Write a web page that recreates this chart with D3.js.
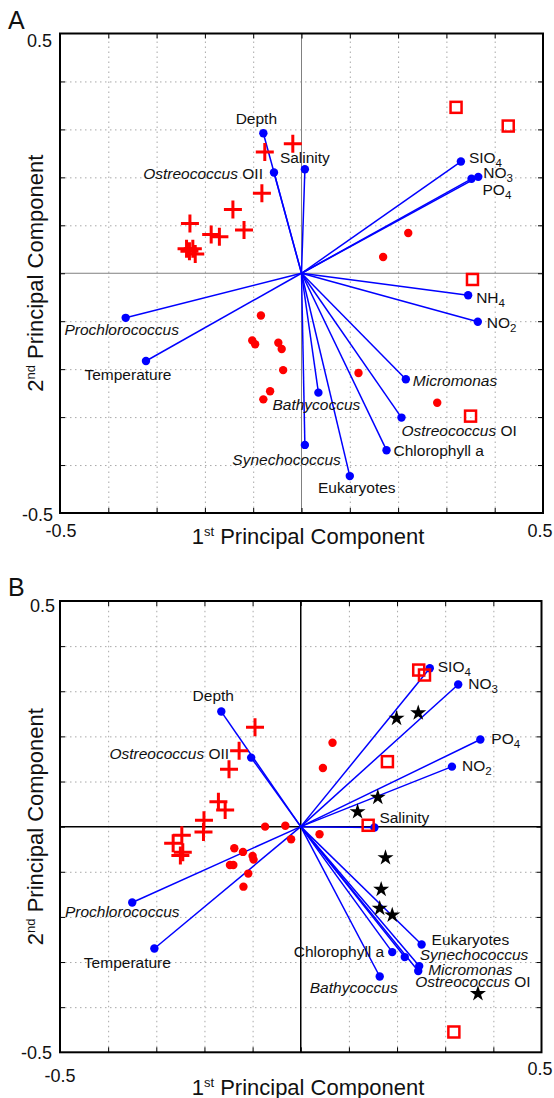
<!DOCTYPE html>
<html>
<head>
<meta charset="utf-8">
<script src="https://cdn.jsdelivr.net/npm/d3@7"></script>
<style>
body { margin: 0; background: #fff; }
svg text { font-family: "Liberation Sans", Arial, sans-serif; fill: #111; }
</style>
</head>
<body>
<div id="chart"></div>
<script>
"use strict"

/* Data: panel A, loadings [name, PC1, PC2] */
let loadingsA = [
    ["Depth", -0.079, 0.292],
    ["Ostreococcus OII", -0.057, 0.210],
    ["Salinity", 0.007, 0.217],
    ["SIO4", 0.330, 0.233],
    ["NO3", 0.366, 0.201],
    ["PO4", 0.352, 0.197],
    ["NH4", 0.345, -0.046],
    ["NO2", 0.365, -0.101],
    ["Micromonas", 0.216, -0.221],
    ["Ostreococcus OI", 0.207, -0.301],
    ["Chlorophyll a", 0.176, -0.369],
    ["Eukaryotes", 0.100, -0.423],
    ["Synechococcus", 0.007, -0.358],
    ["Bathycoccus", 0.035, -0.249],
    ["Prochlorococcus", -0.364, -0.093],
    ["Temperature", -0.322, -0.183]
];

/* Data: panel A, sample scores [PC1, PC2] */
let plusA = [
    [-0.018, 0.270], [-0.076, 0.253], [-0.082, 0.167], [-0.142, 0.133],
    [-0.231, 0.104], [-0.187, 0.081], [-0.170, 0.076], [-0.119, 0.090],
    [-0.238, 0.051], [-0.225, 0.051], [-0.220, 0.040], [-0.232, 0.046]
];
let dotsA = [
    [0.221, 0.084], [0.169, 0.034], [-0.084, -0.088], [-0.102, -0.140],
    [-0.096, -0.148], [-0.048, -0.145], [-0.041, -0.158], [-0.038, -0.202],
    [-0.065, -0.246], [-0.079, -0.263], [0.118, -0.208], [0.281, -0.270]
];
let squaresA = [
    [0.320, 0.346], [0.428, 0.307], [0.354, -0.013], [0.350, -0.298]
];

/* Data: panel B, loadings [name, PC1, PC2] */
let loadingsB = [
    ["Depth", -0.165, 0.255],
    ["Ostreococcus OII", -0.103, 0.153],
    ["SIO4", 0.268, 0.351],
    ["NO3", 0.327, 0.315],
    ["PO4", 0.373, 0.193],
    ["NO2", 0.314, 0.133],
    ["Salinity", 0.153, -0.002],
    ["Eukaryotes", 0.251, -0.261],
    ["Chlorophyll a", 0.190, -0.278],
    ["Synechococcus", 0.216, -0.289],
    ["Micromonas", 0.246, -0.309],
    ["Ostreococcus OI", 0.244, -0.320],
    ["Bathycoccus", 0.164, -0.332],
    ["Prochlorococcus", -0.350, -0.168],
    ["Temperature", -0.304, -0.270]
];

/* Data: panel B, sample scores [PC1, PC2] */
let plusB = [
    [-0.095, 0.220], [-0.128, 0.168], [-0.149, 0.127], [-0.171, 0.055],
    [-0.157, 0.037], [-0.201, 0.014], [-0.202, -0.012], [-0.247, -0.019],
    [-0.265, -0.037], [-0.245, -0.057], [-0.250, -0.064]
];
let dotsB = [
    [0.066, 0.186], [0.046, 0.130], [-0.074, 0.000], [-0.032, 0.002],
    [-0.020, -0.028], [-0.138, -0.048], [-0.120, -0.056], [-0.100, -0.065],
    [-0.098, -0.073], [-0.147, -0.085], [-0.140, -0.085], [-0.109, -0.104],
    [-0.119, -0.133], [0.039, -0.017]
];
let squaresB = [
    [0.245, 0.347], [0.257, 0.336], [0.180, 0.144], [0.140, 0.003], [0.318, -0.455]
];
let starsB = [
    [0.199, 0.240], [0.244, 0.252], [0.160, 0.065], [0.118, 0.033],
    [0.176, -0.069], [0.167, -0.139], [0.164, -0.181], [0.190, -0.196],
    [0.368, -0.370]
];

/* Axis ticks */
let gridTicks = [-0.4, -0.3, -0.2, -0.1, 0.1, 0.2, 0.3, 0.4];
let allTicks = [-0.4, -0.3, -0.2, -0.1, 0, 0.1, 0.2, 0.3, 0.4];
let endTicks = [-0.5, 0.5];
let endTickLabels = ["-0.5", "0.5"];

let italicNames = ["Micromonas", "Synechococcus", "Bathycoccus", "Prochlorococcus"];

/* Label placement: [dx, dy, anchor] from the loading point */
let labelPosA = {
    "Depth": [-7, -9, "middle"], "Ostreococcus OII": [-11, 6, "end"],
    "Salinity": [0, -6, "middle"], "SIO4": [8, 1, "start"],
    "NO3": [5, 1, "start"], "PO4": [11, 16, "start"],
    "NH4": [8, 8, "start"], "NO2": [9, 6, "start"],
    "Micromonas": [7, 7, "start"], "Ostreococcus OI": [0, 18, "start"],
    "Chlorophyll a": [7, 6, "start"], "Eukaryotes": [7, 17, "middle"],
    "Synechococcus": [36, 20, "end"], "Bathycoccus": [-2, 17, "middle"],
    "Prochlorococcus": [-4, 17, "middle"], "Temperature": [-18, 19, "middle"]
};
let labelPosB = {
    "Depth": [-8, -11, "middle"], "Ostreococcus OII": [-22, 1, "end"],
    "SIO4": [8, 4, "start"], "NO3": [10, 5, "start"],
    "PO4": [11, 4, "start"], "NO2": [10, 4, "start"],
    "Salinity": [5, -5, "start"], "Eukaryotes": [10, 1, "start"],
    "Chlorophyll a": [-8, 5, "end"], "Synechococcus": [15, 3, "start"],
    "Micromonas": [9, 9, "start"], "Ostreococcus OI": [-3, 16, "start"],
    "Bathycoccus": [-26, 17, "middle"], "Prochlorococcus": [-10, 15, "middle"],
    "Temperature": [-27, 19, "middle"]
};

let svgWidth = 554;
let svgHeight = 1098;

let svg = d3.select("#chart")
    .append("svg")
    .attr("width", svgWidth)
    .attr("height", svgHeight);

let panels = [
    {
        letter: "A", loadings: loadingsA, plus: plusA, dots: dotsA, squares: squaresA, stars: [],
        labels: labelPosA, left: 60, right: 543, top: 33.5, bottom: 513,
        zeroColor: "#808080", zeroWidth: 1,
        yLab: [[53, 8], [52, 13]], xLab: [[61, 24], [540, 24]], titleY: 31
    },
    {
        letter: "B", loadings: loadingsB, plus: plusB, dots: dotsB, squares: squaresB, stars: starsB,
        labels: labelPosB, left: 60, right: 541.5, top: 601, bottom: 1052.3,
        zeroColor: "#000", zeroWidth: 1.5,
        yLab: [[52, 7], [55, 11]], xLab: [[60, 29.5], [540, 23]], titleY: 43
    }
];

function writeLabel(g, name, x, y, anchor) {
    let t = g.append("text")
        .attr("x", x)
        .attr("y", y)
        .attr("text-anchor", anchor)
        .attr("font-size", 15.5);
    let sub = name.match(/^([A-Z]+)(\d)$/);
    if (sub) {
        t.append("tspan").text(sub[1]);
        t.append("tspan").attr("dy", 4).attr("font-size", 11.5).text(sub[2]);
    } else if (name.startsWith("Ostreococcus")) {
        t.append("tspan").attr("font-style", "italic").text("Ostreococcus");
        t.append("tspan").text(name.slice(12));
    } else if (italicNames.includes(name)) {
        t.attr("font-style", "italic").text(name);
    } else {
        t.text(name);
    }
}

function axisTitle(text, ord, sup) {
    text.append("tspan").text(ord);
    text.append("tspan").attr("dy", -8).attr("font-size", 13).text(sup);
    text.append("tspan").attr("dy", 8).text(" Principal Component");
}

panels.forEach(function (p) {
    let x = d3.scaleLinear().domain([-0.5, 0.5]).range([p.left, p.right]);
    let y = d3.scaleLinear().domain([-0.5, 0.5]).range([p.bottom, p.top]);
    let w = p.right - p.left;
    let h = p.bottom - p.top;
    let g = svg.append("g");

    /* dotted grid */
    g.append("g")
        .attr("transform", "translate(0," + p.bottom + ")")
        .call(d3.axisBottom(x).tickValues(gridTicks).tickSize(-h).tickFormat(""))
        .call(a => a.select(".domain").remove())
        .selectAll("line")
        .attr("stroke", "#a8a8a8")
        .attr("stroke-dasharray", "1.5,3.5");
    g.append("g")
        .attr("transform", "translate(" + p.left + ",0)")
        .call(d3.axisLeft(y).tickValues(gridTicks).tickSize(-w).tickFormat(""))
        .call(a => a.select(".domain").remove())
        .selectAll("line")
        .attr("stroke", "#a8a8a8")
        .attr("stroke-dasharray", "1.5,3.5");

    /* zero lines */
    g.append("line")
        .attr("x1", x(0)).attr("x2", x(0))
        .attr("y1", p.top).attr("y2", p.bottom)
        .attr("stroke", p.zeroColor).attr("stroke-width", p.zeroWidth);
    g.append("line")
        .attr("x1", p.left).attr("x2", p.right)
        .attr("y1", y(0)).attr("y2", y(0))
        .attr("stroke", p.zeroColor).attr("stroke-width", p.zeroWidth);

    /* inner tick marks on all four sides */
    let tickAxes = [
        [d3.axisBottom(x), "translate(0," + p.bottom + ")"],
        [d3.axisTop(x), "translate(0," + p.top + ")"],
        [d3.axisLeft(y), "translate(" + p.left + ",0)"],
        [d3.axisRight(y), "translate(" + p.right + ",0)"]
    ];
    tickAxes.forEach(function (ta) {
        g.append("g")
            .attr("transform", ta[1])
            .call(ta[0].tickValues(allTicks).tickSize(-5).tickFormat(""))
            .call(a => a.select(".domain").remove())
            .selectAll("line")
            .attr("stroke", "#000");
    });

    /* loading vectors */
    g.selectAll(".vec")
        .data(p.loadings)
        .join("line")
        .attr("x1", x(0)).attr("y1", y(0))
        .attr("x2", d => x(d[1]))
        .attr("y2", d => y(d[2]))
        .attr("stroke", "#0000ff")
        .attr("stroke-width", 1.5);
    g.selectAll(".vdot")
        .data(p.loadings)
        .join("circle")
        .attr("cx", d => x(d[1]))
        .attr("cy", d => y(d[2]))
        .attr("r", 4.2)
        .attr("fill", "#0000ff");

    /* samples */
    g.selectAll(".rdot")
        .data(p.dots)
        .join("circle")
        .attr("cx", d => x(d[0]))
        .attr("cy", d => y(d[1]))
        .attr("r", 4.2)
        .attr("fill", "#ff0000");
    g.selectAll(".plus")
        .data(p.plus)
        .join("path")
        .attr("d", "M-9,0H9M0,-9V9")
        .attr("transform", d => "translate(" + x(d[0]) + "," + y(d[1]) + ")")
        .attr("stroke", "#ff0000")
        .attr("stroke-width", 3)
        .attr("fill", "none");
    g.selectAll(".sq")
        .data(p.squares)
        .join("rect")
        .attr("x", d => x(d[0]) - 5.5)
        .attr("y", d => y(d[1]) - 5.5)
        .attr("width", 11)
        .attr("height", 11)
        .attr("fill", "none")
        .attr("stroke", "#ff0000")
        .attr("stroke-width", 2.5);
    g.selectAll(".star")
        .data(p.stars)
        .join("path")
        .attr("d", d3.symbol().type(d3.symbolStar).size(80))
        .attr("transform", d => "translate(" + x(d[0]) + "," + y(d[1]) + ")")
        .attr("fill", "#000");

    /* vector labels */
    p.loadings.forEach(function (d) {
        let lp = p.labels[d[0]];
        writeLabel(g, d[0], x(d[1]) + lp[0], y(d[2]) + lp[1], lp[2]);
    });

    /* frame */
    g.append("rect")
        .attr("x", p.left).attr("y", p.top)
        .attr("width", w).attr("height", h)
        .attr("fill", "none")
        .attr("stroke", "#000")
        .attr("stroke-width", 2);

    /* end tick labels */
    g.append("text")
        .attr("x", p.yLab[0][0]).attr("y", y(endTicks[0]) + p.yLab[0][1])
        .attr("text-anchor", "end").attr("font-size", 18)
        .text(endTickLabels[0]);
    g.append("text")
        .attr("x", p.yLab[1][0]).attr("y", y(endTicks[1]) + p.yLab[1][1])
        .attr("text-anchor", "end").attr("font-size", 18)
        .text(endTickLabels[1]);
    g.append("text")
        .attr("x", p.xLab[0][0]).attr("y", p.bottom + p.xLab[0][1])
        .attr("text-anchor", "middle").attr("font-size", 18)
        .text(endTickLabels[0]);
    g.append("text")
        .attr("x", p.xLab[1][0]).attr("y", p.bottom + p.xLab[1][1])
        .attr("text-anchor", "middle").attr("font-size", 18)
        .text(endTickLabels[1]);

    /* axis titles */
    let xt = g.append("text")
        .attr("x", 308)
        .attr("y", p.bottom + p.titleY)
        .attr("text-anchor", "middle")
        .attr("font-size", 22);
    axisTitle(xt, "1", "st");
    let yt = g.append("text")
        .attr("transform", "translate(43," + ((p.top + p.bottom) / 2) + ") rotate(-90)")
        .attr("text-anchor", "middle")
        .attr("font-size", 22);
    axisTitle(yt, "2", "nd");

    /* panel letter */
    g.append("text")
        .attr("x", 8)
        .attr("y", p.top - 5)
        .attr("font-size", 25)
        .text(p.letter);
});
</script>
</body>
</html>
